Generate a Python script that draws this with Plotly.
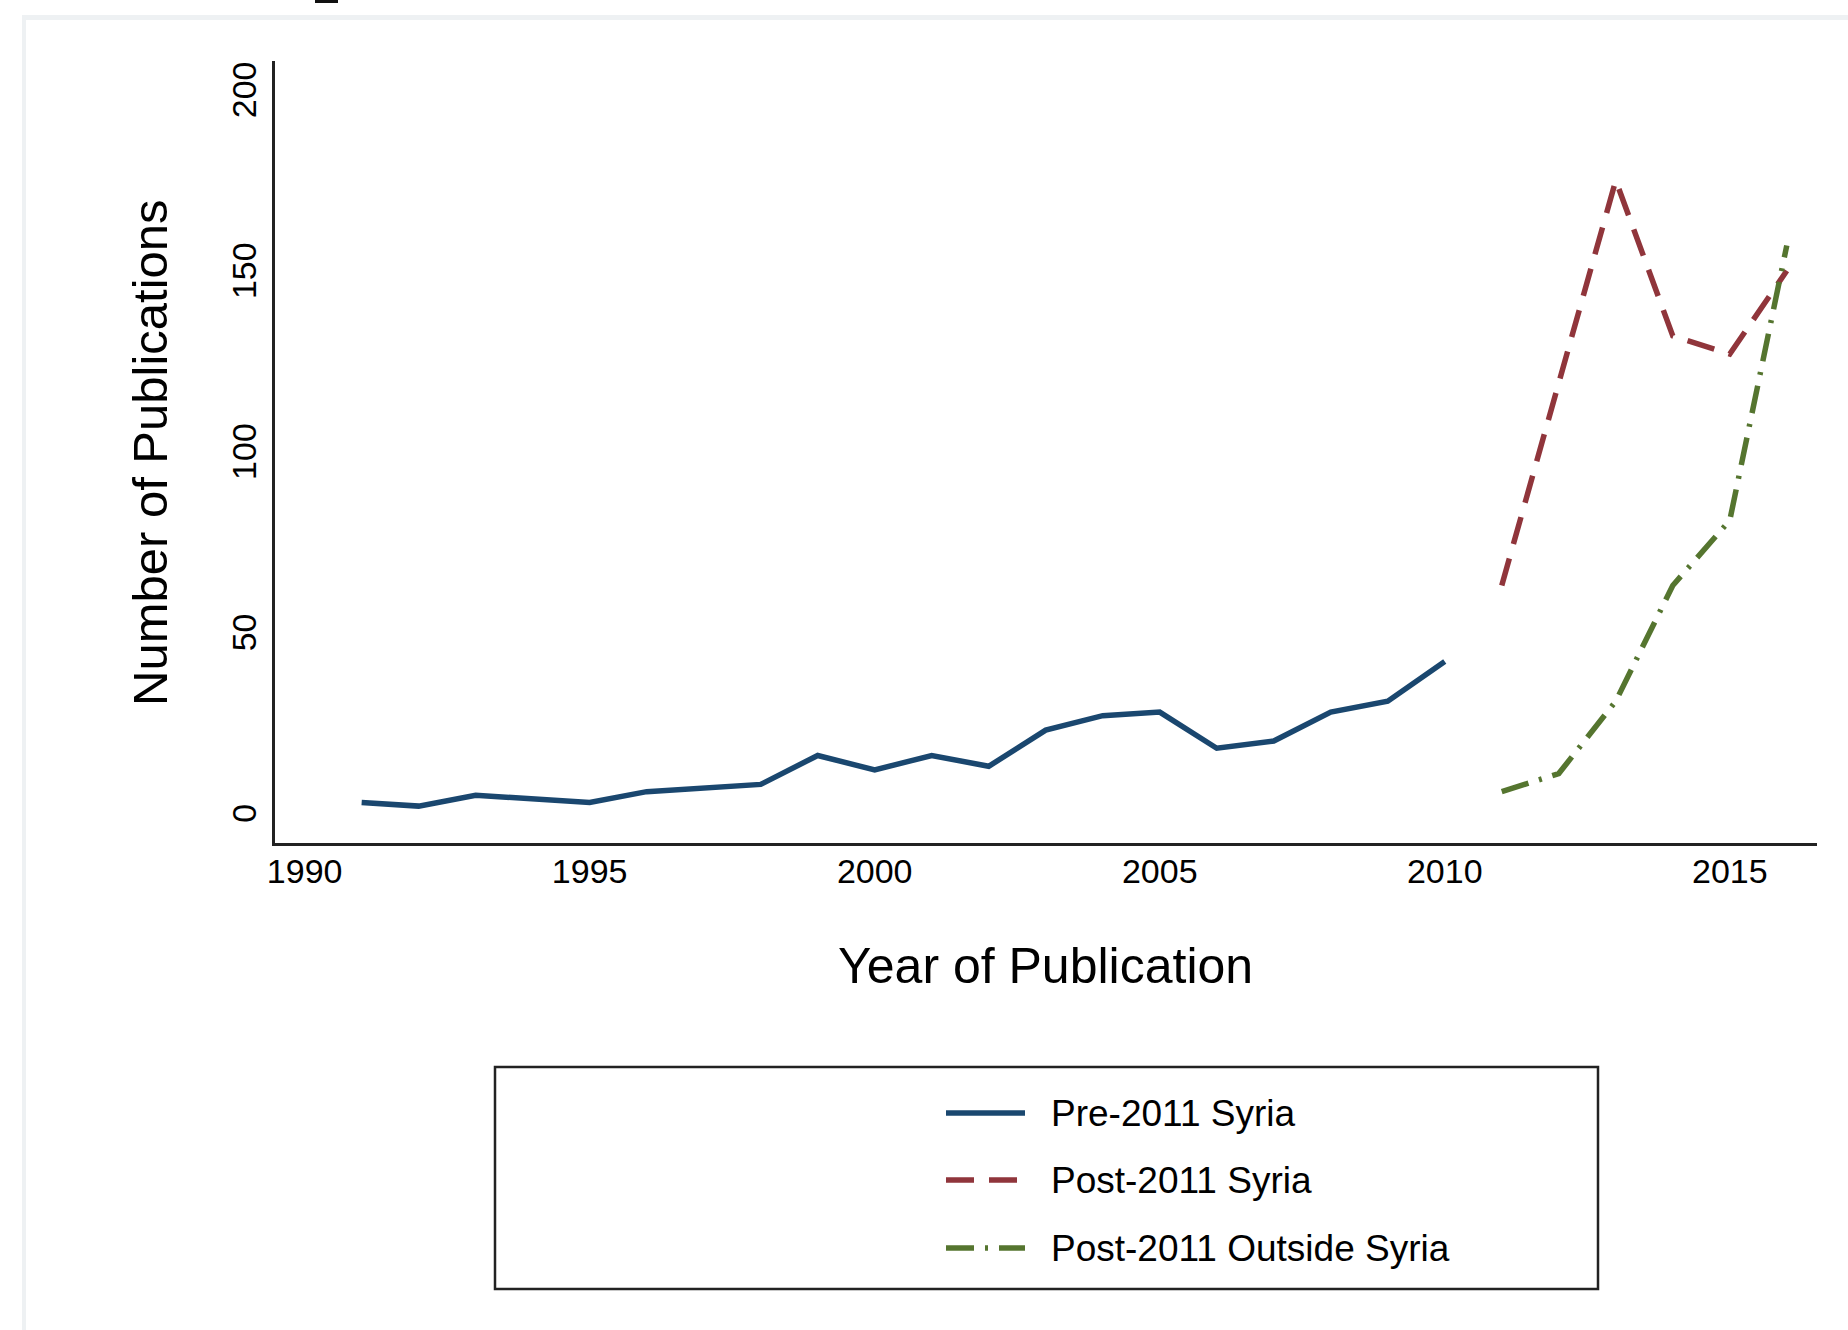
import plotly.graph_objects as go

# ---- data ----
pre_years = list(range(1991, 2011))
pre_vals = [3, 2, 5, 4, 3, 6, 7, 8, 16, 12, 16, 13, 23, 27, 28, 18, 20, 28, 31, 42]

post_years = list(range(2011, 2017))
post_syria = [63, 119, 175, 132, 127, 150]
post_outside = [6, 11, 31, 63, 81, 157]

series_names = ["Pre-2011 Syria", "Post-2011 Syria", "Post-2011 Outside Syria"]
x_ticks = [1990, 1995, 2000, 2005, 2010, 2015]
y_ticks = [0, 50, 100, 150, 200]

NAVY = "#1a476f"
MAROON = "#90353b"
GREEN = "#55752f"
FONT = "Liberation Sans, Arial, Helvetica, sans-serif"
DASH_RED = "28px,15px"
DASH_GREEN = "28px,11px,3px,11px"
LW = 5.5

W, H = 1848, 1330
L, R, T, B = 275, 1817, 61, 843  # plot area in pixels


def px(x):
    return (x - L) / (R - L)


def py(y):
    return (B - y) / (B - T)


fig = go.Figure()
fig.add_trace(go.Scatter(x=pre_years, y=pre_vals, mode="lines", name=series_names[0],
                         line=dict(color=NAVY, width=LW)))
fig.add_trace(go.Scatter(x=post_years, y=post_syria, mode="lines", name=series_names[1],
                         line=dict(color=MAROON, width=LW, dash=DASH_RED)))
fig.add_trace(go.Scatter(x=post_years, y=post_outside, mode="lines", name=series_names[2],
                         line=dict(color=GREEN, width=LW, dash=DASH_GREEN)))

shapes = []
# outer light frame
shapes.append(dict(type="rect", xref="paper", yref="paper", x0=px(22), x1=px(1848), y0=py(20), y1=py(15),
                   fillcolor="#eef1f3", line=dict(width=0), layer="below"))
shapes.append(dict(type="rect", xref="paper", yref="paper", x0=px(22), x1=px(26), y0=py(1330), y1=py(15),
                   fillcolor="#eef1f3", line=dict(width=0), layer="below"))
# small black mark at top
shapes.append(dict(type="rect", xref="paper", yref="paper", x0=px(315), x1=px(338), y0=py(3), y1=py(0),
                   fillcolor="#111111", line=dict(width=0)))
# legend box
shapes.append(dict(type="rect", xref="paper", yref="paper", x0=px(495), x1=px(1598), y0=py(1289), y1=py(1067),
                   line=dict(color="#222222", width=2.5), fillcolor="rgba(0,0,0,0)"))

legend_rows = [1113, 1180, 1248]
legend_styles = [dict(color=NAVY, width=LW),
                 dict(color=MAROON, width=LW, dash=DASH_RED),
                 dict(color=GREEN, width=LW, dash=DASH_GREEN)]
annotations = []
for name, yrow, st in zip(series_names, legend_rows, legend_styles):
    shapes.append(dict(type="line", xref="paper", yref="paper", x0=px(946), x1=px(1025),
                       y0=py(yrow), y1=py(yrow), line=st))
    annotations.append(dict(text=name, xref="paper", yref="paper", x=px(1049), y=py(yrow),
                            xanchor="left", yanchor="middle", showarrow=False,
                            font=dict(family=FONT, size=37, color="#000000")))

# axis titles
annotations.append(dict(text="Year of Publication", xref="paper", yref="paper", x=px(1045), y=py(966),
                        xanchor="center", yanchor="middle", showarrow=False,
                        font=dict(family=FONT, size=50, color="#000000")))
annotations.append(dict(text="Number of Publications", xref="paper", yref="paper", x=px(150), y=py(453),
                        xanchor="center", yanchor="middle", showarrow=False, textangle=-90,
                        font=dict(family=FONT, size=49, color="#000000")))

fig.update_layout(
    width=W, height=H,
    margin=dict(l=L, r=W - R, t=T, b=H - B, pad=0),
    paper_bgcolor="white", plot_bgcolor="white",
    showlegend=False,
    shapes=shapes, annotations=annotations,
    font=dict(family=FONT, color="#000000"),
)
fig.update_xaxes(range=[1989.48, 2016.53], tickvals=x_ticks, ticktext=[str(v) for v in x_ticks],
                 showgrid=False, zeroline=False, showline=True, linecolor="#222222", linewidth=2.5,
                 ticks="", tickfont=dict(family=FONT, size=34, color="#000000"), ticklabelstandoff=-4)
fig.update_yaxes(range=[-8.2, 208], tickvals=y_ticks, ticktext=[str(v) for v in y_ticks],
                 showgrid=False, zeroline=False, showline=True, linecolor="#222222", linewidth=2.5,
                 ticks="", tickangle=-90, tickfont=dict(family=FONT, size=34, color="#000000"),
                 ticklabelstandoff=3, ticklabelshift=5)

fig.write_html("out.html")
